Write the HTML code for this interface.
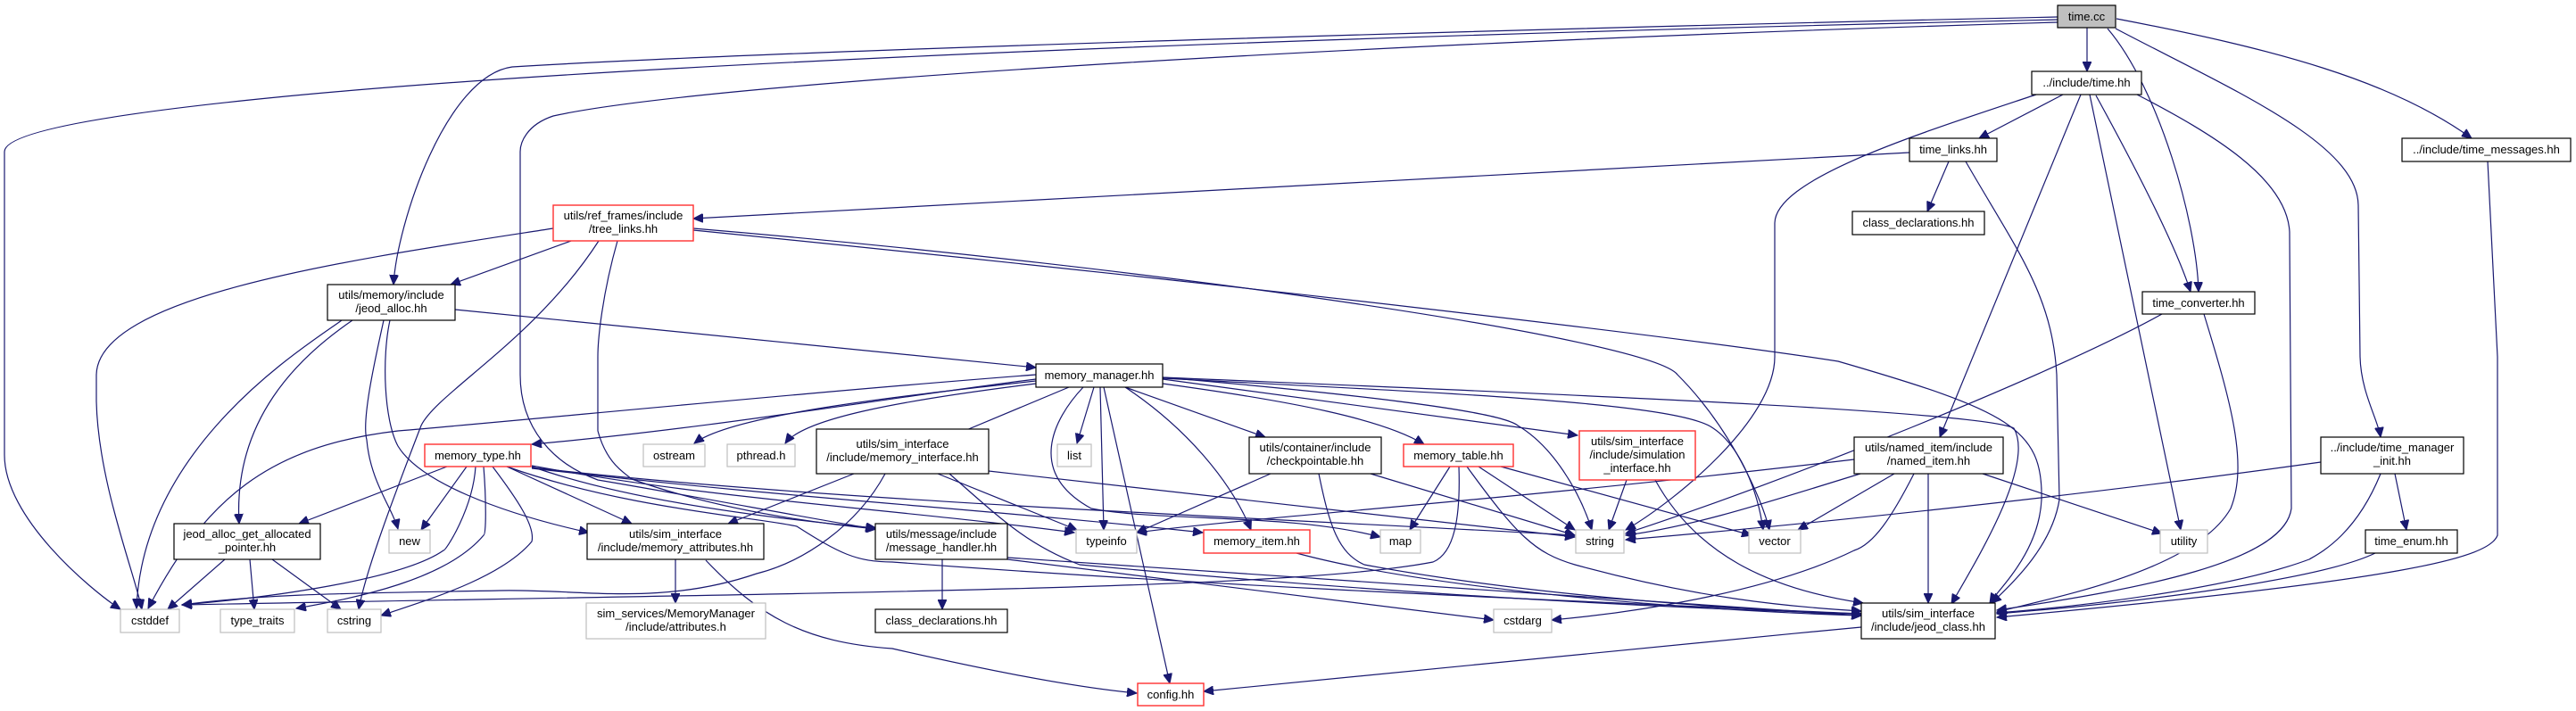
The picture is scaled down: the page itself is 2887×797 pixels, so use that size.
<!DOCTYPE html>
<html><head><meta charset="utf-8"><style>
html,body{margin:0;padding:0;background:#fff;}
svg{display:block;}
text{font-family:"Liberation Sans",Arial,sans-serif;font-size:13px;fill:#000;}
.e{fill:none;stroke:#191970;stroke-width:1.2;marker-end:url(#a);}
.n{fill:#fff;stroke:#000;stroke-width:1.2;}
.g{fill:#fff;stroke:#bfbfbf;stroke-width:1.2;}
.r{fill:#fff;stroke:#ff3030;stroke-width:1.4;}
</style></head><body>
<svg width="2887" height="797" viewBox="0 0 2887 797" xmlns="http://www.w3.org/2000/svg">
<defs><marker id="a" markerUnits="userSpaceOnUse" markerWidth="12" markerHeight="10" refX="11" refY="5" orient="auto"><path d="M0,0 L11,5 L0,10 z" fill="#191970" stroke="#191970"/></marker></defs>
<g>
<!-- time.cc -->
<path class="e" d="M2339,31 L2339,80"/>
<path class="e" d="M2362,32 C2420,100 2462,250 2464,327"/>
<path class="e" d="M2371,32 C2500,100 2642,160 2643,230 L2645,400 C2646,440 2665,470 2668,490"/>
<path class="e" d="M2372,21 C2550,55 2680,90 2770,155"/>
<path class="e" d="M2306,19 C1800,30 900,55 574,75 C500,85 445,250 441,319"/>
<path class="e" d="M2306,22 C1500,40 700,70 300,110 C100,130 5,150 5,170 L5,510 C5,580 100,660 135,683"/>
<path class="e" d="M2306,25 C1600,45 800,90 620,130 C590,140 583,160 583,170 L583,420 C583,480 620,520 670,538 C800,560 900,580 981,593"/>
<!-- time.hh -->
<path class="e" d="M2312,106 L2218,155"/>
<path class="e" d="M2349,107 C2400,200 2440,280 2455,327"/>
<path class="e" d="M2342,106 L2444,594"/>
<path class="e" d="M2282,106 C2150,150 1990,200 1989,250 L1989,400 C1989,470 1880,560 1822,594"/>
<path class="e" d="M2332,106 L2174,490"/>
<path class="e" d="M2395,106 C2480,150 2563,200 2566,260 L2568,570 C2560,630 2400,660 2238,684"/>
<!-- time_links -->
<path class="e" d="M2140,171 L777,245"/>
<path class="e" d="M2184,181 L2160,237"/>
<path class="e" d="M2203,181 C2260,280 2300,330 2305,420 L2308,560 C2300,610 2260,650 2232,676"/>
<!-- time_converter -->
<path class="e" d="M2470,352 C2500,450 2520,520 2500,570 C2460,640 2300,670 2238,686"/>
<path class="e" d="M2423,352 C2300,420 2000,540 1822,598"/>
<!-- time_messages -->
<path class="e" d="M2788,181 L2799,400 L2799,600 C2790,625 2700,650 2238,692"/>
<!-- tree_links -->
<path class="e" d="M640,270 L505,319"/>
<path class="e" d="M620,256 C400,290 110,330 108,420 L108,450 C110,540 150,640 159,683"/>
<path class="e" d="M671,270 C600,380 490,440 472,477 C440,560 410,640 402,683"/>
<path class="e" d="M692,270 C675,330 670,380 670,400 L670,483 C680,520 700,530 708,537 C800,570 900,585 982,593"/>
<path class="e" d="M777,256 C1300,300 1850,380 1880,420 C1940,480 1975,560 1983,594"/>
<path class="e" d="M777,258 C1400,320 1900,380 2060,405 C2250,460 2290,480 2288,560 C2285,620 2240,660 2230,676"/>
<!-- jeod_alloc -->
<path class="e" d="M510,347 L1161,412"/>
<path class="e" d="M383,359 C340,390 160,500 153,682"/>
<path class="e" d="M395,359 C335,400 261,470 268,587"/>
<path class="e" d="M430,359 C421,400 405,470 411,493 C415,540 440,570 446,593"/>
<path class="e" d="M437,359 C428,400 430,470 446,500 C470,540 560,575 660,597"/>
<!-- memory_manager -->
<path class="e" d="M1161,420 C900,440 600,470 446,483 C300,500 230,560 166,682"/>
<path class="e" d="M1161,425 C1000,445 800,480 596,498"/>
<path class="e" d="M1161,427 C1000,445 820,465 778,497"/>
<path class="e" d="M1161,430 C1000,450 900,470 880,497"/>
<path class="e" d="M1198,434 L1064,490"/>
<path class="e" d="M1226,434 L1207,497"/>
<path class="e" d="M1233,434 L1237,594"/>
<path class="e" d="M1237,434 L1311,766"/>
<path class="e" d="M1214,434 C1180,470 1150,530 1223,570 C1300,585 1446,575 1547,602"/>
<path class="e" d="M1261,434 C1330,480 1380,540 1402,594"/>
<path class="e" d="M1261,434 L1418,490"/>
<path class="e" d="M1303,430 C1450,450 1550,470 1596,498"/>
<path class="e" d="M1303,425 L1768,488"/>
<path class="e" d="M1303,423 C1500,440 1680,460 1701,477 C1740,500 1770,550 1784,594"/>
<path class="e" d="M1303,424 C1600,440 1880,450 1920,480 C1950,500 1970,550 1976,594"/>
<path class="e" d="M1303,423 C1700,440 2220,460 2257,480 C2280,520 2220,620 2187,677"/>
<!-- memory_type -->
<path class="e" d="M501,523 L335,587"/>
<path class="e" d="M523,523 L472,594"/>
<path class="e" d="M533,523 C530,570 500,617 497,617 C450,650 300,670 204,678"/>
<path class="e" d="M542,523 C545,560 545,600 542,600 C500,650 400,670 332,682"/>
<path class="e" d="M552,523 C580,560 600,590 596,607 C560,650 470,675 427,690"/>
<path class="e" d="M568,523 L708,587"/>
<path class="e" d="M596,522 C800,560 1000,570 1204,597"/>
<path class="e" d="M596,524 C900,560 1400,580 1765,600"/>
<path class="e" d="M596,525 C900,560 1100,570 1348,597"/>
<path class="e" d="M596,523 C700,560 850,580 982,592"/>
<path class="e" d="M568,523 C700,570 850,580 893,590 C940,620 960,630 1000,630 C1400,660 1800,675 2086,688"/>
<!-- memory_interface -->
<path class="e" d="M957,531 L816,587"/>
<path class="e" d="M992,531 C960,590 900,630 848,643 C740,680 650,660 560,662 C400,665 300,665 204,678"/>
<path class="e" d="M1051,531 L1207,594"/>
<path class="e" d="M1108,528 L1765,602"/>
<path class="e" d="M1064,531 C1120,580 1150,610 1210,633 C1500,660 1800,680 2086,688"/>
<!-- memory_attributes -->
<path class="e" d="M757,627 L757,676"/>
<path class="e" d="M791,628 C850,690 900,720 1000,727 C1100,750 1200,770 1274,777"/>
<!-- jeod_alloc_get_allocated_pointer -->
<path class="e" d="M252,627 L188,683"/>
<path class="e" d="M280,627 L285,683"/>
<path class="e" d="M305,627 L382,683"/>
<!-- message_handler -->
<path class="e" d="M1056,627 L1056,683"/>
<path class="e" d="M1129,627 L1674,695"/>
<path class="e" d="M1129,625 L2086,690"/>
<!-- checkpointable -->
<path class="e" d="M1424,531 L1274,597"/>
<path class="e" d="M1536,531 L1765,600"/>
<path class="e" d="M1478,531 C1490,590 1500,620 1529,633 C1700,665 1900,680 2086,690"/>
<!-- memory_table -->
<path class="e" d="M1625,523 L1580,594"/>
<path class="e" d="M1657,523 L1765,594"/>
<path class="e" d="M1682,523 L1963,600"/>
<path class="e" d="M1635,523 C1637,580 1630,620 1606,630 C1450,660 1000,663 204,678"/>
<path class="e" d="M1644,523 C1700,600 1720,620 1765,633 C1900,670 2000,680 2086,685"/>
<!-- simulation_interface -->
<path class="e" d="M1823,538 L1803,594"/>
<path class="e" d="M1855,538 C1900,620 1980,660 2088,676"/>
<!-- memory_item -->
<path class="e" d="M1453,620 C1600,660 1900,685 2086,690"/>
<!-- named_item -->
<path class="e" d="M2078,515 C1700,560 1400,580 1274,597"/>
<path class="e" d="M2085,531 C1990,560 1900,590 1822,600"/>
<path class="e" d="M2123,531 L2015,594"/>
<path class="e" d="M2145,531 C2120,580 2100,610 2078,617 C1990,660 1850,685 1739,695"/>
<path class="e" d="M2161,531 L2161,676"/>
<path class="e" d="M2222,531 L2423,598"/>
<!-- time_manager_init -->
<path class="e" d="M2601,518 C2300,560 2000,590 1822,605"/>
<path class="e" d="M2684,531 L2697,594"/>
<path class="e" d="M2668,531 C2640,600 2600,620 2588,627 C2500,660 2330,680 2238,687"/>
<path class="e" d="M2662,620 C2600,650 2400,675 2238,688"/>
<!-- jeod_class -> config -->
<path class="e" d="M2086,703 C1800,730 1500,760 1349,775"/>
</g>
<!-- nodes -->
<rect x="2306" y="6" width="65" height="25" fill="#bfbfbf" stroke="#000" stroke-width="1.2"/>
<text x="2338.5" y="23" text-anchor="middle">time.cc</text>
<rect class="n" x="2277" y="80" width="123" height="26"/><text x="2338.5" y="97" text-anchor="middle">../include/time.hh</text>
<rect class="n" x="2140" y="155" width="98" height="26"/><text x="2189" y="172" text-anchor="middle">time_links.hh</text>
<rect class="n" x="2692" y="155" width="189" height="26"/><text x="2786.5" y="172" text-anchor="middle">../include/time_messages.hh</text>
<rect class="n" x="2076" y="237" width="148" height="26"/><text x="2150" y="254" text-anchor="middle">class_declarations.hh</text>
<rect class="n" x="2401" y="327" width="126" height="25"/><text x="2464" y="344" text-anchor="middle">time_converter.hh</text>
<rect class="r" x="620" y="230" width="157" height="40"/><text x="698.5" y="246" text-anchor="middle">utils/ref_frames/include</text><text x="698.5" y="261" text-anchor="middle">/tree_links.hh</text>
<rect class="n" x="367" y="319" width="143" height="40"/><text x="438.5" y="335" text-anchor="middle">utils/memory/include</text><text x="438.5" y="350" text-anchor="middle">/jeod_alloc.hh</text>
<rect class="n" x="1161" y="408" width="142" height="26"/><text x="1232" y="425" text-anchor="middle">memory_manager.hh</text>
<rect class="r" x="476" y="498" width="119" height="25"/><text x="535.5" y="515" text-anchor="middle">memory_type.hh</text>
<rect class="g" x="721" y="498" width="69" height="25"/><text x="755.5" y="515" text-anchor="middle">ostream</text>
<rect class="g" x="815" y="498" width="76" height="25"/><text x="853" y="515" text-anchor="middle">pthread.h</text>
<rect class="n" x="915" y="481" width="193" height="50"/><text x="1011.5" y="502" text-anchor="middle">utils/sim_interface</text><text x="1011.5" y="517" text-anchor="middle">/include/memory_interface.hh</text>
<rect class="g" x="1185" y="498" width="38" height="25"/><text x="1204" y="515" text-anchor="middle">list</text>
<rect class="n" x="1400" y="490" width="148" height="41"/><text x="1474" y="506" text-anchor="middle">utils/container/include</text><text x="1474" y="521" text-anchor="middle">/checkpointable.hh</text>
<rect class="r" x="1573" y="498" width="123" height="25"/><text x="1634.5" y="515" text-anchor="middle">memory_table.hh</text>
<rect class="r" x="1770" y="483" width="130" height="55"/><text x="1835" y="499" text-anchor="middle">utils/sim_interface</text><text x="1835" y="514" text-anchor="middle">/include/simulation</text><text x="1835" y="529" text-anchor="middle">_interface.hh</text>
<rect class="n" x="2078" y="490" width="167" height="41"/><text x="2161.5" y="506" text-anchor="middle">utils/named_item/include</text><text x="2161.5" y="521" text-anchor="middle">/named_item.hh</text>
<rect class="n" x="2601" y="490" width="160" height="41"/><text x="2681" y="506" text-anchor="middle">../include/time_manager</text><text x="2681" y="521" text-anchor="middle">_init.hh</text>
<rect class="n" x="195" y="587" width="164" height="40"/><text x="277" y="603" text-anchor="middle">jeod_alloc_get_allocated</text><text x="277" y="618" text-anchor="middle">_pointer.hh</text>
<rect class="g" x="436" y="594" width="46" height="26"/><text x="459" y="611" text-anchor="middle">new</text>
<rect class="n" x="658" y="587" width="198" height="40"/><text x="757" y="603" text-anchor="middle">utils/sim_interface</text><text x="757" y="618" text-anchor="middle">/include/memory_attributes.hh</text>
<rect class="n" x="981" y="587" width="148" height="40"/><text x="1055" y="603" text-anchor="middle">utils/message/include</text><text x="1055" y="618" text-anchor="middle">/message_handler.hh</text>
<rect class="g" x="1206" y="594" width="68" height="26"/><text x="1240" y="611" text-anchor="middle">typeinfo</text>
<rect class="r" x="1349" y="594" width="119" height="26"/><text x="1408.5" y="611" text-anchor="middle">memory_item.hh</text>
<rect class="g" x="1547" y="594" width="45" height="26"/><text x="1569.5" y="611" text-anchor="middle">map</text>
<rect class="g" x="1766" y="594" width="54" height="26"/><text x="1793" y="611" text-anchor="middle">string</text>
<rect class="g" x="1960" y="594" width="58" height="26"/><text x="1989" y="611" text-anchor="middle">vector</text>
<rect class="g" x="2421" y="594" width="53" height="26"/><text x="2447.5" y="611" text-anchor="middle">utility</text>
<rect class="n" x="2651" y="594" width="103" height="26"/><text x="2702.5" y="611" text-anchor="middle">time_enum.hh</text>
<rect class="g" x="135" y="683" width="66" height="26"/><text x="168" y="700" text-anchor="middle">cstddef</text>
<rect class="g" x="247" y="683" width="83" height="26"/><text x="288.5" y="700" text-anchor="middle">type_traits</text>
<rect class="g" x="367" y="683" width="60" height="26"/><text x="397" y="700" text-anchor="middle">cstring</text>
<rect class="g" x="657" y="676" width="201" height="40"/><text x="757.5" y="692" text-anchor="middle" fill="#000">sim_services/MemoryManager</text><text x="757.5" y="707" text-anchor="middle">/include/attributes.h</text>
<rect class="n" x="981" y="683" width="148" height="26"/><text x="1055" y="700" text-anchor="middle">class_declarations.hh</text>
<rect class="g" x="1674" y="683" width="65" height="26"/><text x="1706.5" y="700" text-anchor="middle">cstdarg</text>
<rect class="n" x="2086" y="676" width="150" height="40"/><text x="2161" y="692" text-anchor="middle">utils/sim_interface</text><text x="2161" y="707" text-anchor="middle">/include/jeod_class.hh</text>
<rect class="r" x="1275" y="766" width="74" height="25"/><text x="1312" y="783" text-anchor="middle">config.hh</text>
</svg>
</body></html>
